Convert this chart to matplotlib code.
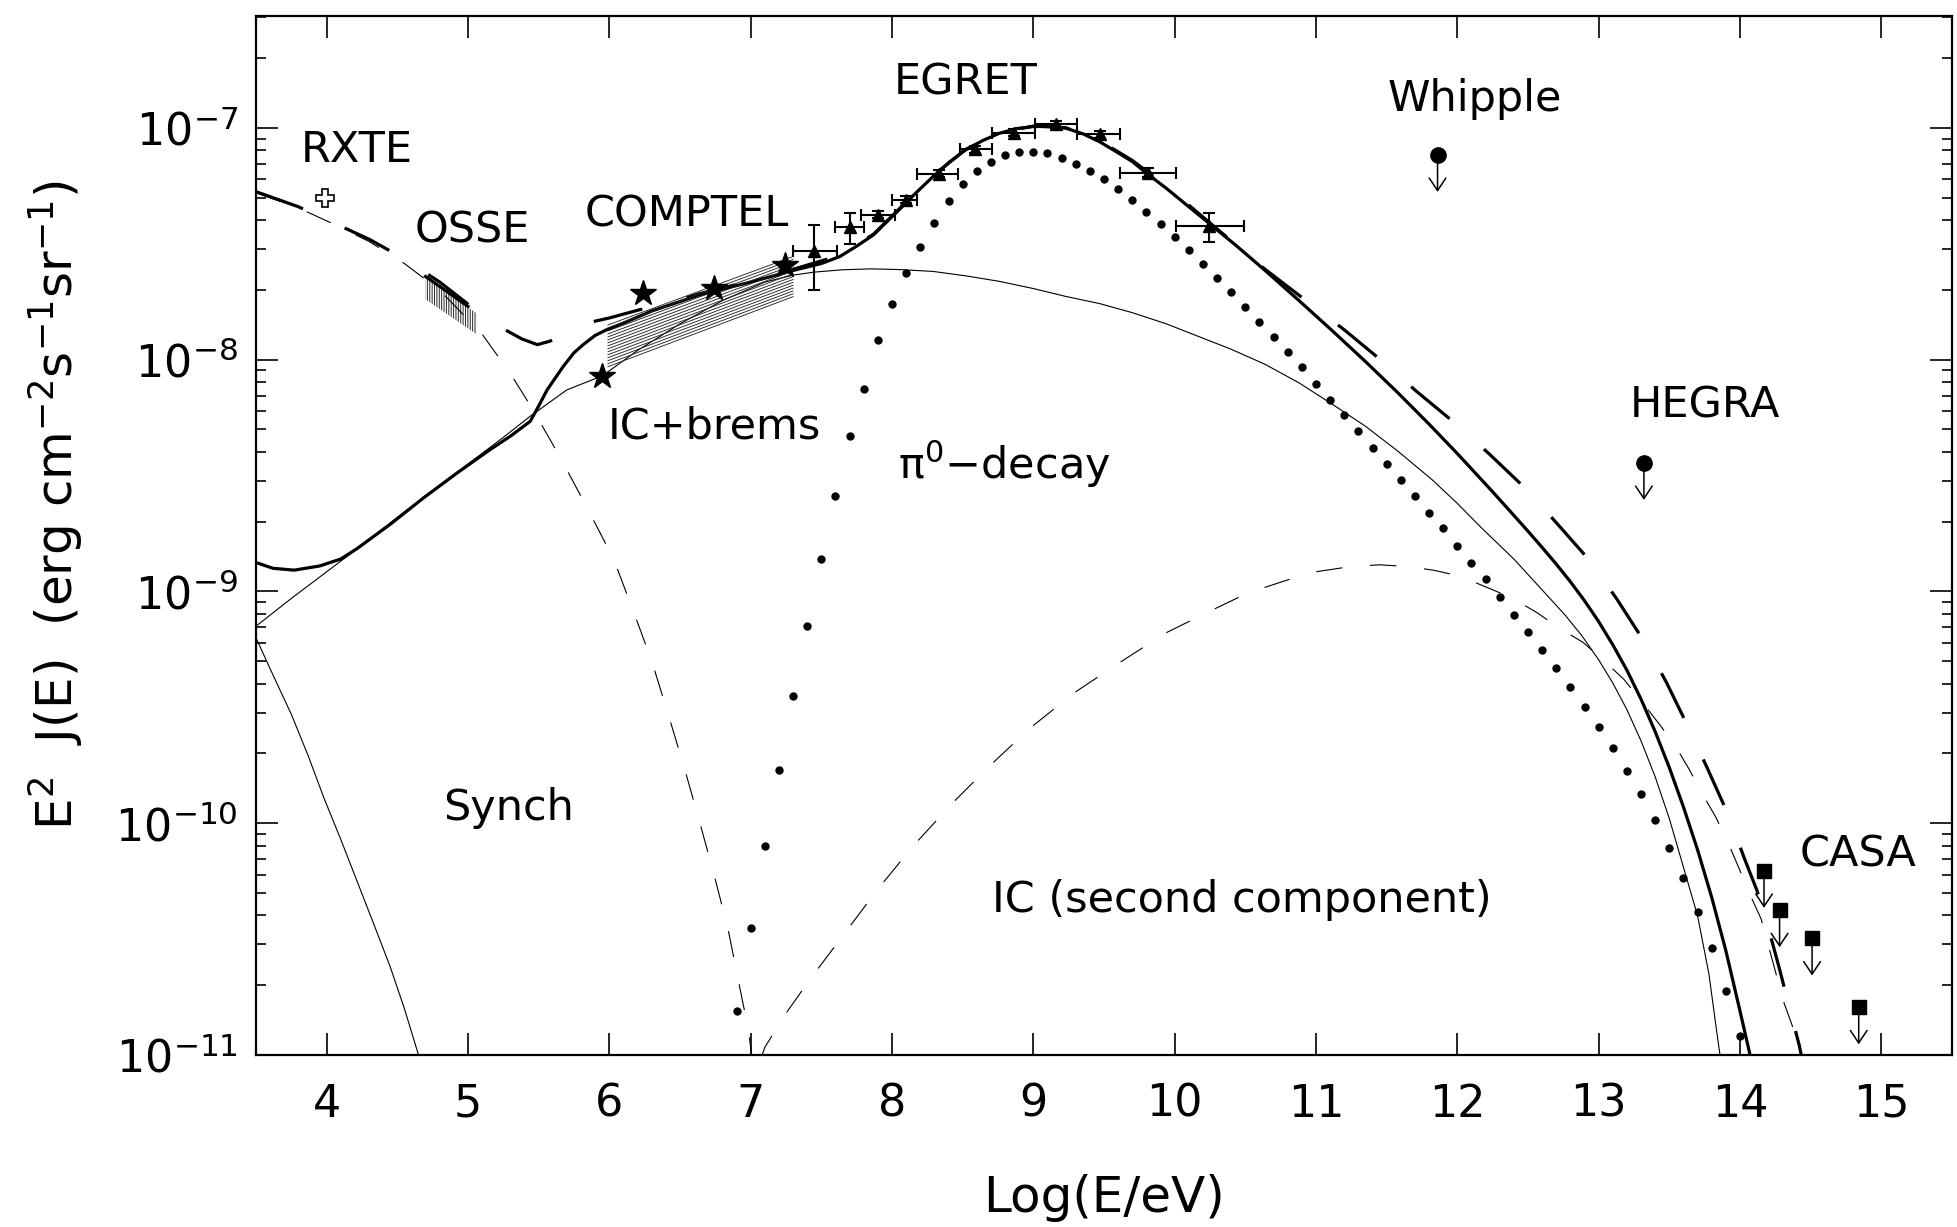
import numpy as np
import matplotlib
matplotlib.use("Agg")
import matplotlib.pyplot as plt
from matplotlib.ticker import FixedLocator, NullFormatter, FuncFormatter

plt.rcParams["font.family"] = ["DejaVu Sans"]
plt.rcParams["mathtext.fontset"] = "dejavusans"
plt.rcParams["lines.scale_dashes"] = False
plt.rcParams["hatch.linewidth"] = 0.7

# ---------------------------------------------------------------------------
# Spectral components: x = log10(E/eV), values = log10(E^2 J(E)) in
# erg cm^-2 s^-1 sr^-1
# ---------------------------------------------------------------------------
synch_x = [3.5, 3.62, 3.75, 3.87, 3.98, 4.1, 4.215, 4.33, 4.45, 4.55, 4.65, 4.67]
synch_log = [-9.20, -9.36, -9.53, -9.71, -9.89, -10.07, -10.25, -10.43, -10.62,
             -10.80, -11.0, -11.05]

ic_brems_x = [3.5, 3.75, 4.0, 4.25, 4.5, 4.75, 5.0, 5.25, 5.44, 5.7, 5.95, 6.2,
              6.5, 6.8, 7.1, 7.3, 7.45, 7.65, 7.85, 8.05, 8.29, 8.52, 8.76, 9.0,
              9.23, 9.47, 9.70, 9.94, 10.17, 10.4, 10.64, 10.88, 11.11, 11.35,
              11.58, 11.82, 12.0, 12.17, 12.4, 12.64, 12.76, 12.88, 13.0, 13.1,
              13.2, 13.3, 13.4, 13.5, 13.6, 13.7, 13.78, 13.84, 13.87]
ic_brems_log = [-9.15, -9.03, -8.915, -8.80, -8.68, -8.565, -8.45, -8.335, -8.244,
                -8.13, -8.07, -7.96, -7.845, -7.745, -7.665, -7.635, -7.622,
                -7.612, -7.608, -7.611, -7.619, -7.638, -7.662, -7.693, -7.727,
                -7.758, -7.797, -7.845, -7.90, -7.955, -8.02, -8.10, -8.19,
                -8.287, -8.395, -8.517, -8.62, -8.725, -8.86, -9.02, -9.10, -9.19,
                -9.295, -9.395, -9.51, -9.645, -9.80, -9.98, -10.19, -10.40,
                -10.65, -10.92, -11.05]

pi0_x = np.round(np.arange(6.9, 14.05, 0.1), 1)
pi0_log = [-10.81, -10.45, -10.10, -9.77, -9.45, -9.15, -8.86, -8.59, -8.33, -8.126,
           -7.917, -7.76, -7.628, -7.512, -7.408, -7.315, -7.244, -7.185, -7.145,
           -7.116, -7.103, -7.102, -7.109, -7.131, -7.156, -7.185, -7.222, -7.263,
           -7.31, -7.362, -7.414, -7.469, -7.528, -7.586, -7.648, -7.708, -7.774,
           -7.838, -7.902, -7.968, -8.033, -8.103, -8.172, -8.24, -8.309, -8.381,
           -8.448, -8.519, -8.589, -8.66, -8.728, -8.805, -8.876, -8.948, -9.025,
           -9.10, -9.176, -9.253, -9.332, -9.412, -9.497, -9.585, -9.677, -9.775,
           -9.874, -9.986, -10.105, -10.237, -10.382, -10.54, -10.723, -10.92]

total_x = [3.5, 3.62, 3.77, 3.95, 4.1, 4.215, 4.45, 4.686, 4.92, 5.156, 5.3, 5.44,
           5.5, 5.56, 5.674, 5.75, 5.815, 5.9, 5.98, 6.1, 6.3, 6.64, 7.0, 7.3, 7.5,
           7.63, 7.75, 7.87, 8.05, 8.17, 8.29, 8.4, 8.52, 8.64, 8.76, 8.88, 9.0,
           9.12, 9.23, 9.35, 9.47, 9.58, 9.70, 9.80, 9.94, 10.0, 10.24, 10.44,
           10.64, 10.88, 11.11, 11.35, 11.58, 11.8, 12.0, 12.25, 12.5, 12.6, 12.7,
           12.8, 12.9, 13.0, 13.1, 13.2, 13.3, 13.4, 13.5, 13.6, 13.7, 13.8, 13.9,
           14.0, 14.09]
total_log = [-8.875, -8.90, -8.908, -8.89, -8.86, -8.815, -8.71, -8.596, -8.49,
             -8.388, -8.33, -8.266, -8.20, -8.13, -8.029, -7.97, -7.935, -7.895,
             -7.871, -7.842, -7.79, -7.72, -7.665, -7.615, -7.585, -7.555, -7.51,
             -7.461, -7.353, -7.28, -7.21, -7.15, -7.095, -7.055, -7.023, -7.003,
             -6.994, -6.993, -7.001, -7.025, -7.06, -7.10, -7.145, -7.195, -7.26,
             -7.29, -7.41, -7.51, -7.615, -7.745, -7.872, -8.008, -8.143, -8.278,
             -8.405, -8.57, -8.74, -8.81, -8.882, -8.958, -9.04, -9.13, -9.23,
             -9.34, -9.465, -9.605, -9.76, -9.93, -10.115, -10.32, -10.55, -10.81,
             -11.05]

# second electron component
synch2_x = [3.5, 3.8, 4.05, 4.3, 4.55, 4.8, 5.1, 5.3, 5.46, 5.66, 5.85, 6.03, 6.17,
            6.3, 6.42, 6.53, 6.64, 6.74, 6.84, 6.92, 6.98, 7.02]
synch2_log = [-7.28, -7.345, -7.415, -7.49, -7.585, -7.70, -7.89, -8.06, -8.216,
              -8.43, -8.647, -8.86, -9.085, -9.30, -9.537, -9.76, -9.997, -10.22,
              -10.457, -10.70, -10.88, -11.05]

ic2_x = [7.07, 7.10, 7.25, 7.43, 7.67, 7.90, 8.15, 8.42, 8.69, 8.98, 9.29, 9.61,
         9.94, 10.30, 10.52, 10.8, 11.0, 11.25, 11.45, 11.64, 11.83, 12.02, 12.2,
         12.38, 12.56, 12.72, 12.89, 13.04, 13.18, 13.31, 13.43, 13.55, 13.64,
         13.735, 13.83, 13.92, 13.99, 14.08, 14.15, 14.31, 14.37, 14.43]
ic2_log = [-11.02, -10.967, -10.82, -10.665, -10.471, -10.284, -10.098, -9.918,
           -9.753, -9.588, -9.437, -9.307, -9.178, -9.07, -9.006, -8.95, -8.915,
           -8.892, -8.885, -8.892, -8.908, -8.934, -8.98, -9.026, -9.09, -9.157,
           -9.22, -9.30, -9.38, -9.48, -9.573, -9.674, -9.767, -9.875, -9.975,
           -10.09, -10.19, -10.32, -10.414, -10.773, -10.874, -11.02]

total2_x = [3.5, 3.8, 4.05, 4.3, 4.55, 4.8, 5.0, 5.15, 5.26, 5.38, 5.49, 5.58, 5.7,
            5.8, 5.89, 6.0, 6.21, 6.4, 6.64, 7.0, 7.3, 7.63, 7.87, 8.05, 8.29, 8.52,
            8.76, 9.0, 9.23, 9.47, 9.70, 9.94, 10.24, 10.64, 10.94, 11.2, 11.47,
            11.71, 11.98, 12.23, 12.49, 12.71, 12.94, 13.13, 13.32, 13.48, 13.63,
            13.77, 13.91, 14.03, 14.12, 14.2, 14.28, 14.36, 14.42, 14.45]
total2_log = [-7.275, -7.34, -7.41, -7.48, -7.565, -7.665, -7.76, -7.83, -7.87,
              -7.91, -7.935, -7.92, -7.885, -7.855, -7.835, -7.82, -7.785, -7.76,
              -7.715, -7.66, -7.61, -7.55, -7.458, -7.35, -7.207, -7.093, -7.021,
              -6.992, -6.999, -7.055, -7.14, -7.25, -7.405, -7.61, -7.75, -7.871,
              -8.007, -8.136, -8.272, -8.409, -8.56, -8.71, -8.869, -9.034, -9.214,
              -9.393, -9.58, -9.764, -9.954, -10.15, -10.29, -10.45, -10.63,
              -10.82, -10.96, -11.05]

# ---------------------------------------------------------------------------
# Measurements
# ---------------------------------------------------------------------------
rxte_x, rxte_log = [3.99], [-7.303]

osse_x = [4.70, 5.06]
osse_hi = [-7.641, -7.80]
osse_lo = [-7.74, -7.89]
osse_line_x = [4.70, 5.0]
osse_line_log = [-7.641, -7.77]

comptel_band_x = [5.99, 7.30]
comptel_band_hi = [-7.85, -7.555]
comptel_band_lo = [-8.03, -7.728]
comptel_x = [5.95, 6.24, 6.74, 7.24]
comptel_log = [-8.072, -7.712, -7.691, -7.591]

egret_x = [7.45, 7.70, 7.90, 8.10, 8.33, 8.59, 8.86, 9.16, 9.47, 9.81, 10.24]
egret_log = [-7.532, -7.428, -7.374, -7.31, -7.198, -7.092, -7.02, -6.985, -7.027,
             -7.193, -7.422]
egret_xlo = [7.30, 7.60, 7.78, 8.00, 8.18, 8.48, 8.71, 9.01, 9.31, 9.61, 10.01]
egret_xhi = [7.61, 7.80, 8.02, 8.18, 8.47, 8.71, 9.01, 9.31, 9.61, 10.01, 10.49]
egret_ylo = [-7.698, -7.50, -7.39, -7.325, -7.213, -7.107, -7.035, -7.0, -7.042,
             -7.213, -7.49]
egret_yhi = [-7.418, -7.368, -7.358, -7.295, -7.183, -7.077, -7.005, -6.97, -7.012,
             -7.173, -7.365]

whipple_x, whipple_log = [11.86], [-7.116]
hegra_x, hegra_log = [13.32], [-8.445]
casa_x = [14.17, 14.28, 14.51, 14.84]
casa_log = [-10.205, -10.375, -10.497, -10.794]

x_ticks = list(range(4, 16))
y_decades = [-11, -10, -9, -8, -7]

# ---------------------------------------------------------------------------
W_PX, H_PX = 1957, 1227
fig = plt.figure(figsize=(W_PX / 100, H_PX / 100), dpi=100)
left, right, top, bottom = 256, 1952, 16, 1055
ax = fig.add_axes([left / W_PX, 1 - bottom / H_PX, (right - left) / W_PX,
                   (bottom - top) / H_PX])
ax.set_yscale("log")
ax.set_xlim(3.5, 15.5)
ax.set_ylim(1e-11, 10 ** -6.517)


def lin(vals):
    return 10.0 ** np.asarray(vals, dtype=float)


THIN = 0.8
THICK = 2.3
k = "black"

ax.plot(synch_x, lin(synch_log), color=k, lw=THIN)
ax.plot(ic_brems_x, lin(ic_brems_log), color=k, lw=THIN)
ax.plot(total_x, lin(total_log), color=k, lw=THICK, solid_capstyle="butt",
        solid_joinstyle="round")
ax.plot(pi0_x, lin(pi0_log), linestyle="none", marker="o", ms=5.0, color=k)
ax.plot(synch2_x, lin(synch2_log), color=k, lw=THIN, dashes=(19, 20))
ax.plot(ic2_x, lin(ic2_log), color=k, lw=THIN, dashes=(19, 20))
ax.plot(total2_x, lin(total2_log), color=k, lw=THICK, dashes=(36, 33),
        dash_capstyle="butt")

# RXTE
ax.plot(rxte_x, lin(rxte_log), linestyle="none", marker="P", ms=13,
        mfc="white", mec=k, mew=1.2)

# OSSE band
ax.fill_between(osse_x, lin(osse_lo), lin(osse_hi), facecolor="none",
                edgecolor="0.15", hatch="|" * 7, linewidth=0)
ax.plot(osse_line_x, lin(osse_line_log), color=k, lw=THICK)

# COMPTEL band (parallel hatch lines) and points
for f in np.linspace(0.0, 1.0, 15):
    band = np.asarray(comptel_band_lo) + f * (np.asarray(comptel_band_hi) -
                                              np.asarray(comptel_band_lo))
    ax.plot(comptel_band_x, lin(band), color="0.15", lw=0.65)
ax.plot(comptel_x, lin(comptel_log), linestyle="none", marker="*", ms=19,
        color=k)

# EGRET
ex = np.asarray(egret_x)
ey = lin(egret_log)
xerr = [ex - np.asarray(egret_xlo), np.asarray(egret_xhi) - ex]
yerr = [ey - lin(egret_ylo), lin(egret_yhi) - ey]
ax.errorbar(ex, ey, xerr=xerr, yerr=yerr, fmt="^", ms=8, color=k,
            elinewidth=1.5, capsize=4, capthick=1.5)

# upper limits
ARROW_DEX = 0.16


def upper_limits(xs, logs, marker, ms):
    ax.plot(xs, lin(logs), linestyle="none", marker=marker, ms=ms, color=k)
    for x, v in zip(xs, logs):
        ax.annotate("", xy=(x, 10 ** (v - ARROW_DEX)), xytext=(x, 10 ** v),
                    arrowprops=dict(arrowstyle="->,head_length=0.45,head_width=0.3",
                                    color=k, lw=1.1, shrinkA=0, shrinkB=0,
                                    mutation_scale=20))


upper_limits(whipple_x, whipple_log, "o", 11)
upper_limits(hegra_x, hegra_log, "o", 11)
upper_limits(casa_x, casa_log, "s", 9.5)

# labels on the plot
FS = 31
labels = [
    (4.21, -7.094, "RXTE"),
    (5.03, -7.443, "OSSE"),
    (6.547, -7.374, "COMPTEL"),
    (8.52, -6.803, "EGRET"),
    (12.12, -6.873, "Whipple"),
    (13.75, -8.197, "HEGRA"),
    (6.741, -8.288, "IC+brems"),
    (5.288, -9.934, "Synch"),
    (10.475, -10.332, "IC (second component)"),
    (14.835, -10.133, "CASA"),
]
for x, v, s in labels:
    ax.text(x, 10 ** v, s, fontsize=FS, ha="center", va="center")
ax.text(8.045, 10 ** -8.45, "π$^0$−decay", fontsize=FS, ha="left", va="center")

# axes styling
ax.xaxis.set_major_locator(FixedLocator(x_ticks))
ax.xaxis.set_minor_locator(FixedLocator([]))
ax.yaxis.set_major_locator(FixedLocator([10.0 ** d for d in y_decades]))
ax.yaxis.set_minor_locator(FixedLocator(
    [m * 10.0 ** d for d in y_decades for m in range(2, 10)
     if m * 10.0 ** d < 10 ** -6.517]))
ax.yaxis.set_minor_formatter(NullFormatter())
ax.yaxis.set_major_formatter(
    FuncFormatter(lambda v, p: r"$10^{%d}$" % int(round(np.log10(v)))))
ax.tick_params(which="both", direction="in", top=True, right=True,
               width=1.2, labelsize=32)
ax.tick_params(which="major", length=16)
ax.tick_params(which="minor", length=7.5)
ax.tick_params(axis="x", pad=20)
ax.tick_params(axis="y", pad=13)
for sp in ax.spines.values():
    sp.set_linewidth(1.6)

fig.text(1104 / W_PX, 1 - 1198 / H_PX, "Log(E/eV)", fontsize=36, ha="center",
         va="center")
fig.text(56 / W_PX, 1 - 505 / H_PX,
         r"E$^2$  J(E)  (erg cm$^{-2}$s$^{-1}$sr$^{-1}$)", fontsize=36,
         rotation=90, ha="center", va="center")

fig.savefig("out.png", dpi=100)
